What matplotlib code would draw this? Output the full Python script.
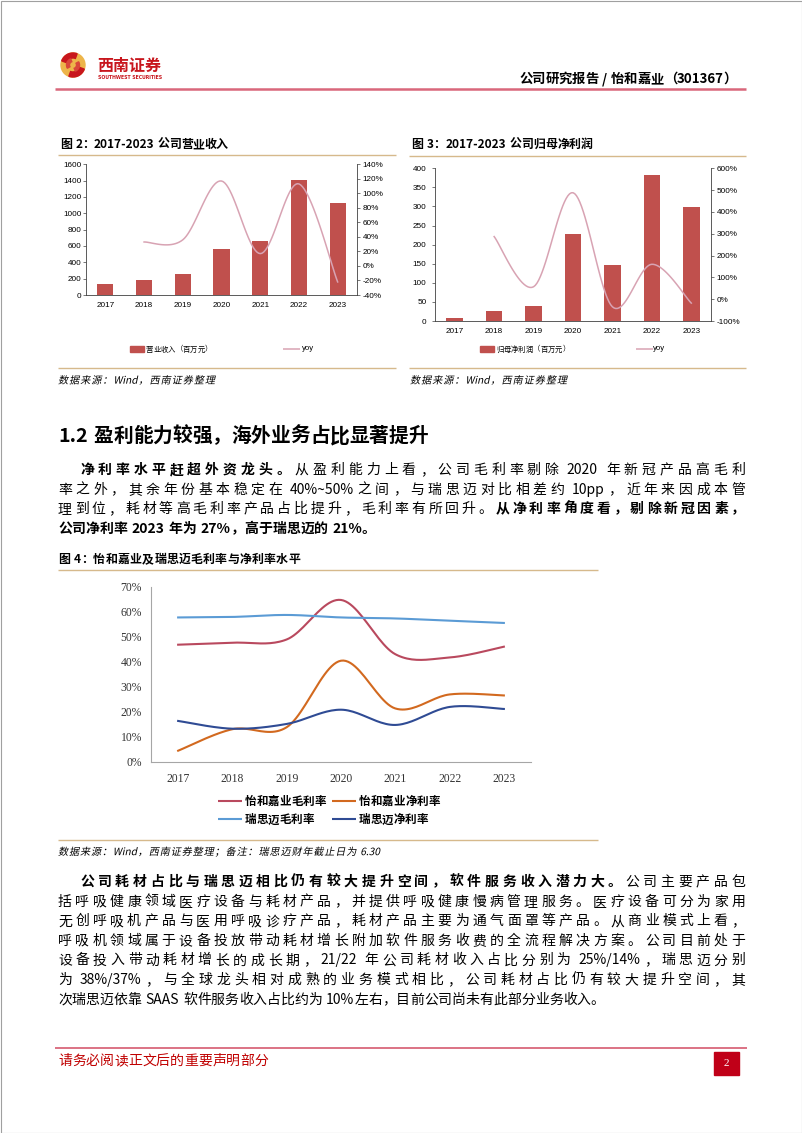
"""Page 2 of the 怡和嘉业 (301367) research report: three charts plus body text."""

import re

import matplotlib
matplotlib.use("Agg")

import matplotlib.pyplot as plt
import matplotlib.ticker as mticker
import numpy as np
from matplotlib.font_manager import FontProperties
from matplotlib.patches import Circle, PathPatch, Rectangle, Wedge
from matplotlib.textpath import TextPath
from matplotlib.transforms import Affine2D

W, H = 802, 1133
CJK = ["Noto Sans CJK SC", "DejaVu Sans"]
plt.rcParams["font.family"] = CJK
plt.rcParams["axes.unicode_minus"] = False

# ── Colours ────────────────────────────────────────────────────────────────
BAR_RED = "#C0504D"
YOY_PINK = "#D8A3B3"
RULE_RED = "#D9677B"
TAN = "#D6B98C"
BRAND_RED = "#C8161D"
YH_GROSS_C = "#B9495E"
YH_NET_C = "#D2691F"
RM_GROSS_C = "#5B9BD5"
RM_NET_C = "#2F4B94"

# ── Data ───────────────────────────────────────────────────────────────────
YEARS = ["2017", "2018", "2019", "2020", "2021", "2022", "2023"]

REVENUE = [139, 184, 253, 563, 661, 1408, 1122]            # 百万元
REVENUE_YOY = [np.nan, 0.33, 0.36, 1.17, 0.17, 1.13, -0.22]

PROFIT = [7, 25, 39, 228, 148, 382, 298]                   # 百万元
PROFIT_YOY = [np.nan, 2.87, 0.57, 4.88, -0.35, 1.60, -0.18]

YH_GROSS = [0.468, 0.476, 0.489, 0.647, 0.430, 0.417, 0.460]
YH_NET = [0.044, 0.130, 0.138, 0.404, 0.213, 0.269, 0.265]
RM_GROSS = [0.577, 0.579, 0.587, 0.577, 0.573, 0.564, 0.555]
RM_NET = [0.163, 0.132, 0.151, 0.208, 0.147, 0.219, 0.211]

fig = plt.figure(figsize=(W / 100, H / 100), dpi=100)
fig.patch.set_facecolor("white")

# page-sized axes in pixel coordinates (y grows downwards)
page = fig.add_axes([0, 0, 1, 1])
page.set_xlim(0, W)
page.set_ylim(H, 0)
page.axis("off")
renderer = fig.canvas.get_renderer()

TOKEN = re.compile(r"[!-~]+| |.")


def text_line(x, y, parts, size, width=None, gap=0.0, color="black", italic=False):
    """Lay out one line token by token; y is the line's centre in pixels."""
    em = size * 100 / 72
    toks = []
    for s, bold in parts:
        for t in TOKEN.findall(s):
            toks.append((t, "bold" if bold else "normal"))
    widths = []
    for t, wt in toks:
        if t == " ":
            w = 0.3 * em
        elif ord(t[0]) > 0x2000:
            w = em
        else:
            prop = FontProperties(family=CJK, size=size, weight=wt)
            w = renderer.get_text_width_height_descent(t, prop, ismath=False)[0]
        widths.append(w)
    n_ink = sum(t != " " for t, _ in toks)
    if width is not None and n_ink > 1:
        gap = (width - sum(widths)) / (n_ink - 1)
    base = y + 0.36 * em
    for (t, wt), w in zip(toks, widths):
        if t == " ":
            x += w
            continue
        if italic:
            tp = TextPath((0, 0), t, size=em, prop=FontProperties(family=CJK, weight=wt))
            tr = Affine2D().skew_deg(12, 0).scale(1, -1).translate(x, base)
            page.add_patch(PathPatch(tr.transform_path(tp), color=color, lw=0))
        else:
            page.text(x, base, t, fontsize=size, fontweight=wt, color=color,
                      ha="left", va="baseline", family=CJK)
        x += w + gap


def rule(x0, x1, y, color, lw):
    page.plot([x0, x1], [y, y], color=color, lw=lw, solid_capstyle="butt")


def rect(l, t, r, b):
    return [l / W, 1 - b / H, (r - l) / W, (b - t) / H]


def smooth(xs, ys, n=24):
    """Excel-style smoothed line through the points (cubic Bezier segments)."""
    pts = np.column_stack([xs, ys]).astype(float)
    out = [pts[0]]
    for i in range(len(pts) - 1):
        p0 = pts[i - 1] if i > 0 else pts[i]
        p1, p2 = pts[i], pts[i + 1]
        p3 = pts[i + 2] if i + 2 < len(pts) else pts[i + 1]
        c1 = p1 + (p2 - p0) / 6
        c2 = p2 - (p3 - p1) / 6
        t = np.linspace(0, 1, n)[1:, None]
        seg = (1 - t) ** 3 * p1 + 3 * (1 - t) ** 2 * t * c1 + 3 * (1 - t) * t ** 2 * c2 + t ** 3 * p2
        out.extend(seg)
    out = np.array(out)
    return out[:, 0], out[:, 1]


pct = mticker.FuncFormatter(lambda v, _: f"{v * 100:.0f}%")


# ── Page frame, header, footer ─────────────────────────────────────────────
page.add_patch(Rectangle((0.5, 0.5), W - 1, H - 1, fill=False, ec="#a0a0a0", lw=0.8))

# logo
LOGO = (73, 65)
page.add_patch(Circle(LOGO, 12, color="#EDB54A"))
page.add_patch(Wedge(LOGO, 12, 20, 110, width=5, color=BRAND_RED))
page.add_patch(Wedge(LOGO, 12, 200, 290, width=5, color=BRAND_RED))
page.add_patch(Wedge(LOGO, 6.5, 150, 250, width=3, color="#D9463A"))
page.add_patch(Wedge(LOGO, 6.5, 330, 70, width=3, color="#D9463A"))
page.text(97, 65.5, "西南证券", fontsize=11.5, fontweight="bold", color=BRAND_RED,
          ha="left", va="center", family=CJK)
page.text(98, 77.5, "SOUTHWEST SECURITIES", fontsize=3.3, fontweight="bold",
          color=BRAND_RED, ha="left", va="center", family=["DejaVu Sans"])

text_line(519, 78.3, [("公司研究报告 / 怡和嘉业（301367）", True)], 9.6, width=218)
rule(55, 746, 89.3, RULE_RED, 1.8)

rule(55, 747, 1048.3, RULE_RED, 1.3)
text_line(58, 1060, [("请务必阅读正文后的重要声明部分", False)], 10, width=210, color="#C00000")
page.add_patch(Rectangle((714, 1052), 25, 23, color="#C00018"))
page.text(726.5, 1064, "2", fontsize=8, color="white", ha="center", va="center",
          family=["Liberation Serif"])


# ── Figures 2 and 3: bars + yoy line ───────────────────────────────────────
def bar_yoy_chart(box, values, yoy, vmax, vstep, ylo, yhi, ystep, left_pad):
    ax = fig.add_axes(rect(*box))
    ax.set_facecolor("none")
    x = np.arange(len(YEARS))
    ax.bar(x, values, width=0.42, color=BAR_RED, zorder=2)
    ax.set_xlim(-0.5, len(YEARS) - 0.5)
    ax.set_ylim(0, vmax)
    ax.set_yticks(np.arange(0, vmax + 1, vstep))
    ax.set_xticks(x, YEARS)
    for side in ["top", "right"]:
        ax.spines[side].set_visible(False)
    for side in ["left", "bottom"]:
        ax.spines[side].set_color("#404040")
        ax.spines[side].set_linewidth(0.6)
    ax.tick_params(axis="y", length=2, width=0.5, pad=left_pad, labelsize=5.9,
                   labelfontfamily="Liberation Sans", color="#404040")
    ax.tick_params(axis="x", length=0, pad=5, labelsize=5.9, labelfontfamily="Liberation Sans")

    ax2 = ax.twinx()
    yoy = np.array(yoy)
    keep = ~np.isnan(yoy)
    sx, sy = smooth(x[keep], yoy[keep])
    ax2.plot(sx, sy, color=YOY_PINK, lw=1.1, zorder=3)
    ax2.set_ylim(ylo, yhi)
    ax2.set_yticks(np.arange(ylo, yhi + ystep / 2, ystep))
    ax2.yaxis.set_major_formatter(pct)
    for side in ["top", "left", "bottom"]:
        ax2.spines[side].set_visible(False)
    ax2.spines["right"].set_color("#404040")
    ax2.spines["right"].set_linewidth(0.6)
    ax2.tick_params(axis="y", length=2.2, width=0.5, pad=2, labelsize=5.9,
                    labelfontfamily="Liberation Sans", color="#404040")
    return ax


def small_legend(px, tx, lx, ltx, y, label):
    page.add_patch(Rectangle((px, y - 2.6), 14, 5.2, color=BAR_RED))
    text_line(tx, y, [(label, False)], 5.3)
    rule(lx, lx + 17, y, YOY_PINK, 1.1)
    page.text(ltx, y, "yoy", fontsize=5.6, ha="left", va="center",
              family=["Liberation Sans"])


SOURCE = "数据来源：Wind，西南证券整理"

text_line(60, 144, [("图 2：2017-2023 公司营业收入", True)], 8.6, width=168)
rule(58, 396, 155, TAN, 1.0)
bar_yoy_chart((86, 164.3, 357, 295), REVENUE, REVENUE_YOY, 1600, 200, -0.4, 1.4, 0.2, 1.2)
small_legend(130, 146, 283, 302, 349, "营业收入（百万元）")
rule(58, 396, 367.7, TAN, 1.0)
text_line(58, 380, [(SOURCE, False)], 7.3, width=157, italic=True)

text_line(411, 143.5, [("图 3：2017-2023 公司归母净利润", True)], 8.6, width=182)
rule(409, 746, 156, TAN, 1.0)
bar_yoy_chart((435, 168.3, 711, 321), PROFIT, PROFIT_YOY, 400, 50, -1.0, 6.0, 1.0, 4)
small_legend(480, 496, 636, 653, 349, "归母净利润（百万元）")
rule(409, 746, 367.7, TAN, 1.0)
text_line(410, 380, [(SOURCE, False)], 7.3, width=157, italic=True)

# ── Section heading and first paragraph ────────────────────────────────────
text_line(58, 435, [("1.2 盈利能力较强，海外业务占比显著提升", True)], 14.2, width=370)

BODY = 10.0
text_line(80, 469, [("净利率水平赶超外资龙头。", True),
                    ("从盈利能力上看，公司毛利率剔除 2020 年新冠产品高毛利", False)], BODY, width=665)
text_line(58, 488.6, [("率之外，其余年份基本稳定在 40%~50%之间，与瑞思迈对比相差约 10pp，近年来因成本管", False)],
          BODY, width=687)
text_line(58, 508.2, [("理到位，耗材等高毛利率产品占比提升，毛利率有所回升。", False),
                      ("从净利率角度看，剔除新冠因素，", True)], BODY, width=687)
text_line(58, 527.8, [("公司净利率 2023 年为 27%，高于瑞思迈的 21%。", True)], BODY)

# ── Figure 4: margins ──────────────────────────────────────────────────────
text_line(58, 558.5, [("图 4：怡和嘉业及瑞思迈毛利率与净利率水平", True)], 8.6, width=242)
rule(58, 598, 569.5, TAN, 1.0)

ax4 = fig.add_axes(rect(151, 586.7, 531, 761.7))
ax4.set_facecolor("none")
x = np.arange(len(YEARS))
SERIES4 = [
    (YH_GROSS, YH_GROSS_C, "怡和嘉业毛利率"),
    (YH_NET, YH_NET_C, "怡和嘉业净利率"),
    (RM_GROSS, RM_GROSS_C, "瑞思迈毛利率"),
    (RM_NET, RM_NET_C, "瑞思迈净利率"),
]
for vals, color, _ in SERIES4:
    sx, sy = smooth(x, vals)
    ax4.plot(sx, sy, color=color, lw=1.5)
ax4.set_xlim(-0.5, len(YEARS) - 0.5)
ax4.set_ylim(0, 0.7)
ax4.set_yticks(np.arange(0, 0.71, 0.1))
ax4.yaxis.set_major_formatter(pct)
ax4.set_xticks(x, YEARS)
for side in ["top", "right"]:
    ax4.spines[side].set_visible(False)
for side in ["left", "bottom"]:
    ax4.spines[side].set_color("#A6A6A6")
    ax4.spines[side].set_linewidth(0.8)
ax4.tick_params(axis="y", length=0, pad=6.5, labelsize=8.4, labelfontfamily="Liberation Serif",
                labelcolor="#333333")
ax4.tick_params(axis="x", length=0, pad=8, labelsize=8.4, labelfontfamily="Liberation Serif",
                labelcolor="#333333")

LEG4_POS = [(218, 800.7), (332, 800.7), (218, 819.3), (332, 819.3)]
for (vals, color, label), (lx, ly) in zip(SERIES4, LEG4_POS):
    rule(lx, lx + 24, ly, color, 1.5)
    text_line(lx + 27, ly, [(label, True)], 8.3)

rule(58, 598, 840, TAN, 1.0)
text_line(58, 851.5, [(SOURCE + "；备注：瑞思迈财年截止日为 6.30", False)], 7.3, width=322, italic=True)

# ── Second paragraph ───────────────────────────────────────────────────────
P2 = [
    "括呼吸健康领域医疗设备与耗材产品，并提供呼吸健康慢病管理服务。医疗设备可分为家用",
    "无创呼吸机产品与医用呼吸诊疗产品，耗材产品主要为通气面罩等产品。从商业模式上看，",
    "呼吸机领域属于设备投放带动耗材增长附加软件服务收费的全流程解决方案。公司目前处于",
    "设备投入带动耗材增长的成长期，21/22 年公司耗材收入占比分别为 25%/14%，瑞思迈分别",
    "为 38%/37%，与全球龙头相对成熟的业务模式相比，公司耗材占比仍有较大提升空间，其",
]
text_line(80, 881, [("公司耗材占比与瑞思迈相比仍有较大提升空间，软件服务收入潜力大。", True),
                    ("公司主要产品包", False)], BODY, width=665)
for i, line in enumerate(P2):
    text_line(58, 900.6 + i * 19.6, [(line, False)], BODY, width=687)
text_line(58, 998.6, [("次瑞思迈依靠 SAAS 软件服务收入占比约为 10%左右，目前公司尚未有此部分业务收入。", False)],
          BODY)

fig.savefig("out.png", dpi=100, facecolor="white")
plt.close(fig)
